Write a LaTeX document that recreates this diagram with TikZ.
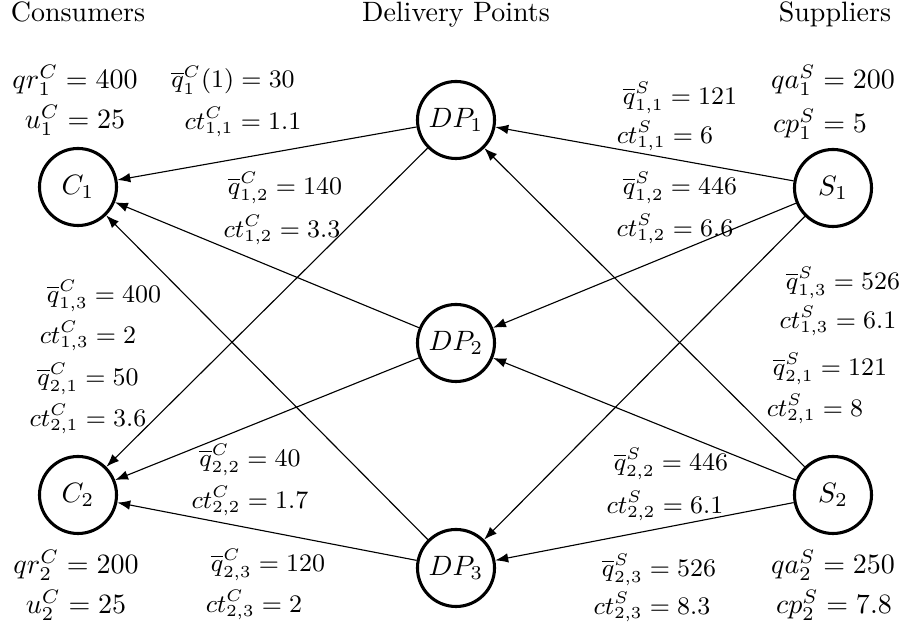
\documentclass[tikz,border=0pt]{standalone}
\usetikzlibrary{arrows.meta}
\begin{document}
\begin{tikzpicture}[x=0.357pt,y=-0.357pt,
  nd/.style={circle,draw,line width=1.1pt,minimum size=27.5pt,inner sep=0pt,font=\normalsize},
  lbl/.style={font=\small,inner sep=0pt},
  big/.style={font=\normalsize,inner sep=0pt},
  ttl/.style={font=\normalsize,inner sep=0pt,anchor=base},
  flow/.style={-{Latex[length=4.6pt,width=3.4pt]},line width=0.4pt}]
\useasboundingbox (0,0) rectangle (902,635);
% titles
\node[ttl] (tC) at (78,22) {Consumers};
\node[ttl] (tD) at (456,22) {Delivery Points};
\node[ttl] (tS) at (835,22) {Suppliers};
% nodes
\node[nd] (C1) at (78,187) {$C_1$};
\node[nd] (C2) at (78,495) {$C_2$};
\node[nd] (D1) at (456,120) {$DP_1$};
\node[nd] (D2) at (456,343) {$DP_2$};
\node[nd] (D3) at (456,568) {$DP_3$};
\node[nd] (S1) at (833,188) {$S_1$};
\node[nd] (S2) at (833,495) {$S_2$};
% edges
\draw[flow] (S1) -- (D1);
\draw[flow] (S1) -- (D2);
\draw[flow] (S1) -- (D3);
\draw[flow] (S2) -- (D1);
\draw[flow] (S2) -- (D2);
\draw[flow] (S2) -- (D3);
\draw[flow] (D1) -- (C1);
\draw[flow] (D1) -- (C2);
\draw[flow] (D2) -- (C1);
\draw[flow] (D2) -- (C2);
\draw[flow] (D3) -- (C1);
\draw[flow] (D3) -- (C2);
% consumer data
\node[big] (qr1) at (75,80) {$qr_1^C = 400$};
\node[big] (u1) at (75,120) {$u_1^C = 25$};
\node[big] (qr2) at (76,565) {$qr_2^C = 200$};
\node[big] (u2) at (76,605) {$u_2^C = 25$};
% supplier data
\node[big] (qa1) at (833,80) {$qa_1^S = 200$};
\node[big] (cp1) at (820,124) {$cp_1^S = 5$};
\node[big] (qa2) at (833,565) {$qa_2^S = 250$};
\node[big] (cp2) at (834,605) {$cp_2^S = 7.8$};
% consumer-side edge labels
\node[lbl] (l1) at (233,80) {$\overline{q}_1^C(1) = 30$};
\node[lbl] (l2) at (243,122) {$ct_{1,1}^C = 1.1$};
\node[lbl] (l3) at (285,188) {$\overline{q}_{1,2}^C = 140$};
\node[lbl] (l4) at (282,230) {$ct_{1,2}^C = 3.3$};
\node[lbl] (l5) at (104,296) {$\overline{q}_{1,3}^C = 400$};
\node[lbl] (l6) at (88,336) {$ct_{1,3}^C = 2$};
\node[lbl] (l7) at (88,379) {$\overline{q}_{2,1}^C = 50$};
\node[lbl] (l8) at (88,419) {$ct_{2,1}^C = 3.6$};
\node[lbl] (l9) at (250,460) {$\overline{q}_{2,2}^C = 40$};
\node[lbl] (l10) at (250,501) {$ct_{2,2}^C = 1.7$};
\node[lbl] (l11) at (268,565) {$\overline{q}_{2,3}^C = 120$};
\node[lbl] (l12) at (254,605) {$ct_{2,3}^C = 2$};
% supplier-side edge labels
\node[lbl] (r1) at (680,98) {$\overline{q}_{1,1}^S = 121$};
\node[lbl] (r2) at (665,136) {$ct_{1,1}^S = 6$};
\node[lbl] (r3) at (680,188) {$\overline{q}_{1,2}^S = 446$};
\node[lbl] (r4) at (675,229) {$ct_{1,2}^S = 6.6$};
\node[lbl] (r5) at (843,283) {$\overline{q}_{1,3}^S = 526$};
\node[lbl] (r6) at (838,321) {$ct_{1,3}^S = 6.1$};
\node[lbl] (r7) at (830,369) {$\overline{q}_{2,1}^S = 121$};
\node[lbl] (r8) at (815,409) {$ct_{2,1}^S = 8$};
\node[lbl] (r9) at (671,464) {$\overline{q}_{2,2}^S = 446$};
\node[lbl] (r10) at (665,506) {$ct_{2,2}^S = 6.1$};
\node[lbl] (r11) at (659,570) {$\overline{q}_{2,3}^S = 526$};
\node[lbl] (r12) at (652,607) {$ct_{2,3}^S = 8.3$};
\end{tikzpicture}
\end{document}
